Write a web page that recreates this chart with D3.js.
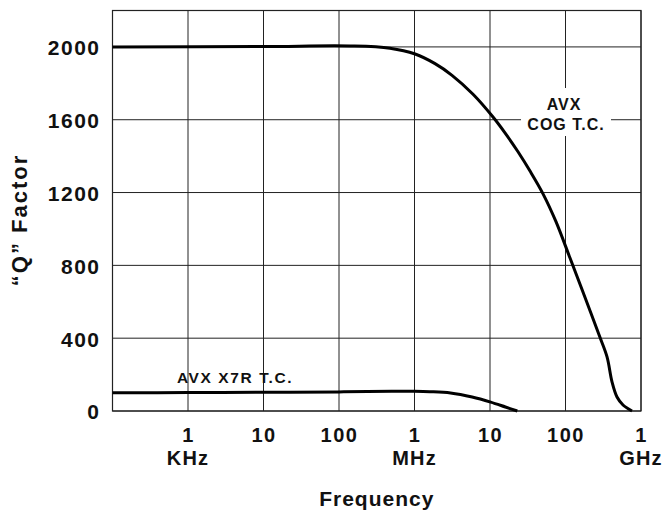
<!DOCTYPE html>
<html>
<head>
<meta charset="utf-8">
<script src="https://cdn.jsdelivr.net/npm/d3@7"></script>
<style>
  html, body { margin: 0; padding: 0; background: #fff; }
  svg { display: block; }
  text { font-family: "Liberation Sans", Arial, Helvetica, sans-serif; font-weight: bold; fill: #111; }
</style>
</head>
<body>
<svg id="chart" width="667" height="514"></svg>
<script>
// ---- Data ----
const cogFreq  = [100, 1e4, 1.4e5, 4.73e5, 1.02e6, 1.87e6, 3.14e6, 5.96e6, 1.096e7, 1.58e7, 2.35e7, 3.39e7, 5.04e7, 7.48e7, 1.148e8, 1.81e8, 2.86e8, 3.55e8, 4.13e8, 4.81e8, 5.78e8, 7.6e8];
const cogQ     = [2000, 2002, 2005, 1993, 1961, 1908, 1844, 1740, 1615, 1528, 1424, 1318, 1193, 1040, 840, 625, 405, 297, 160, 77, 33, 0];
const x7rFreq  = [100, 1e3, 1e4, 1e5, 5e5, 1e6, 1.6e6, 3e6, 5.8e6, 1.02e7, 1.6e7, 2.3e7];
const x7rQ     = [100, 101, 103, 105, 108, 108, 106, 99, 77, 49, 22, 0];
const xTickValues = [1e3, 1e4, 1e5, 1e6, 1e7, 1e8, 1e9];
const xTickLabels = ["1", "10", "100", "1", "10", "100", "1"];
const xUnitValues = [1e3, 1e6, 1e9];
const xUnitLabels = ["KHz", "MHz", "GHz"];
const yTickValues = [0, 400, 800, 1200, 1600, 2000];
const yTickLabels = ["0", "400", "800", "1200", "1600", "2000"];
const xTitle = "Frequency";
const yTitle = "\u201CQ\u201D Factor";
const cogLabel = ["AVX", "COG T.C."];
const x7rLabel = "AVX X7R T.C.";

// ---- Layout ----
const svg = d3.select("#chart");
const pLeft = 112.5, pRight = 641, pTop = 10.5, pBottom = 411;
const x = d3.scaleLog().domain([100, 1e9]).range([pLeft, pRight]);
const y = d3.scaleLinear().domain([0, 2200]).range([pBottom, pTop]);

// gridlines
const grid = svg.append("g").attr("stroke", "#222").attr("stroke-width", 1);
xTickValues.forEach(v => {
  grid.append("line").attr("x1", x(v)).attr("x2", x(v)).attr("y1", pTop).attr("y2", pBottom);
});
yTickValues.forEach(v => {
  grid.append("line").attr("x1", pLeft).attr("x2", pRight).attr("y1", y(v)).attr("y2", y(v));
});
// frame
svg.append("rect").attr("x", pLeft).attr("y", pTop).attr("width", pRight - pLeft).attr("height", pBottom - pTop)
  .attr("fill", "none").attr("stroke", "#222").attr("stroke-width", 1.2);

// curves
const line = d3.line().x(d => x(d[0])).y(d => y(d[1])).curve(d3.curveCatmullRom.alpha(0.5));
svg.append("path").datum(cogFreq.map((f, i) => [f, cogQ[i]]))
  .attr("d", line).attr("fill", "none").attr("stroke", "#000").attr("stroke-width", 3);
svg.append("path").datum(x7rFreq.map((f, i) => [f, x7rQ[i]]))
  .attr("d", line).attr("fill", "none").attr("stroke", "#000").attr("stroke-width", 3);

// COG label with white knockout
svg.append("rect").attr("x", 521).attr("y", 88).attr("width", 90).attr("height", 48).attr("fill", "#fff");
svg.append("text").attr("x", 564).attr("y", 110).attr("text-anchor", "middle")
  .style("font-size", "16px").style("letter-spacing", "1px").text(cogLabel[0]);
svg.append("text").attr("x", 566).attr("y", 130).attr("text-anchor", "middle")
  .style("font-size", "16px").style("letter-spacing", "1px").text(cogLabel[1]);

// X7R label
svg.append("text").attr("x", 235).attr("y", 383).attr("text-anchor", "middle")
  .style("font-size", "15.5px").style("letter-spacing", "1.6px").text(x7rLabel);

// y axis labels
const yAxis = d3.axisLeft(y).tickValues(yTickValues).tickFormat((d, i) => yTickLabels[i]).tickSize(0).tickPadding(12);
const gy = svg.append("g").attr("transform", `translate(${pLeft},0)`).call(yAxis);
gy.select(".domain").remove();
gy.selectAll("text").style("font-size", "21px").style("letter-spacing", "1.5px")
  .style("font-family", "'Liberation Sans', Arial, sans-serif").style("font-weight", "bold").attr("fill", "#111").attr("dy", "0.38em");

// x axis labels
const xAxis = d3.axisBottom(x).tickValues(xTickValues).tickFormat((d, i) => xTickLabels[i]).tickSize(0).tickPadding(17);
const gx = svg.append("g").attr("transform", `translate(0,${pBottom})`).call(xAxis);
gx.select(".domain").remove();
gx.selectAll("text").style("font-size", "20px").style("letter-spacing", "1.5px")
  .style("font-family", "'Liberation Sans', Arial, sans-serif").style("font-weight", "bold").attr("fill", "#111");

// units
svg.append("g").selectAll("text").data(xUnitValues).join("text")
  .attr("x", d => x(d)).attr("y", 465).attr("text-anchor", "middle")
  .style("font-size", "20px").style("letter-spacing", "1.2px")
  .text((d, i) => xUnitLabels[i]);

// titles
svg.append("text").attr("x", (pLeft + pRight) / 2).attr("y", 506).attr("text-anchor", "middle")
  .style("font-size", "21px").style("letter-spacing", "1px").text(xTitle);
svg.append("text").attr("transform", "translate(27,220) rotate(-90)").attr("text-anchor", "middle")
  .style("font-size", "22px").style("letter-spacing", "2px").text(yTitle);
</script>
</body>
</html>
